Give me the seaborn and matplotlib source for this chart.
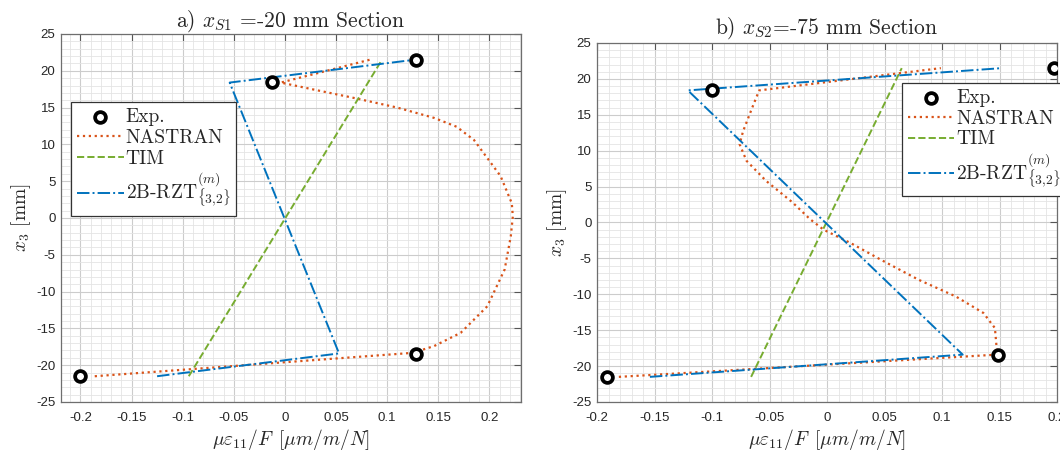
import matplotlib
matplotlib.use("Agg")
import matplotlib.pyplot as plt
from matplotlib.ticker import MultipleLocator, FixedLocator, FuncFormatter
import seaborn as sns

# ---- data (x: micro-strain / F, y: x3 in mm) ----
# a) section xS1 = -20 mm
exp_a_x = [-0.200, 0.128, -0.013, 0.128]
exp_a_y = [-21.5, -18.5, 18.5, 21.5]

nastran_a_x = [-0.186, 0.127, 0.130, 0.146, 0.172, 0.198, 0.215, 0.221, 0.223,
               0.222, 0.211, 0.185, 0.168, 0.146, 0.110, 0.068, 0.030, -0.004,
               0.083]
nastran_a_y = [-21.5, -18.3, -18.1, -17.4, -15.6, -12.0, -7.0, -2.5, 0.2,
               2.0, 5.7, 10.6, 12.4, 13.6, 15.0, 16.3, 17.4, 18.4, 21.5]

tim_a_x = [-0.094, 0.095]
tim_a_y = [-21.5, 21.5]

rzt_a_x = [-0.125, 0.053, -0.054, 0.127]
rzt_a_y = [-21.5, -18.4, 18.4, 21.5]

# b) section xS2 = -75 mm
exp_b_x = [-0.191, 0.149, -0.100, 0.197]
exp_b_y = [-21.5, -18.5, 18.5, 21.5]

nastran_b_x = [-0.181, 0.148, 0.147, 0.146, 0.136, 0.112, 0.080, 0.047, 0.021,
               -0.003, -0.015, -0.030, -0.053, -0.070, -0.076, -0.073, -0.065,
               -0.059, 0.099]
nastran_b_y = [-21.5, -18.4, -16.5, -14.7, -12.6, -10.3, -8.0, -5.2, -2.9,
               -1.0, 0.5, 2.8, 5.8, 8.6, 10.9, 12.7, 16.0, 18.4, 21.5]

tim_b_x = [-0.066, 0.065]
tim_b_y = [-21.5, 21.5]

rzt_b_x = [-0.154, 0.118, -0.121, 0.152]
rzt_b_y = [-21.5, -18.4, 18.4, 21.5]

x_ticks = [-0.2, -0.15, -0.1, -0.05, 0, 0.05, 0.1, 0.15, 0.2]
y_ticks = [-25, -20, -15, -10, -5, 0, 5, 10, 15, 20, 25]

titles = [r"a) $x_{S1}$ =-20 mm Section", r"b) $x_{S2}$=-75 mm Section"]
labels = ["Exp.", "NASTRAN", "TIM", r"2B-RZT$^{(m)}_{\{3{,}2\}}$"]

c_nas = "#D95319"
c_tim = "#77AC30"
c_rzt = "#0072BD"

sns.set_theme(style="white")
plt.rcParams["font.family"] = ["Liberation Sans", "DejaVu Sans"]
plt.rcParams["mathtext.fontset"] = "cm"
plt.rcParams["axes.unicode_minus"] = False
serif = "cmr10"

fig = plt.figure(figsize=(10.6, 4.53), dpi=100)
ax1 = fig.add_axes([61 / 1060, 51 / 453, 460 / 1060, 368 / 453])
ax2 = fig.add_axes([597 / 1060, 51 / 453, 460 / 1060, 359 / 453])


def panel(ax, ex, ey, nx, ny, tx, ty, rx, ry, xlim, title, leg_anchor, tpad):
    sns.scatterplot(x=ex, y=ey, ax=ax, marker="o", s=60, facecolor="white",
                    edgecolor="black", linewidth=2.7, zorder=5, label=labels[0])
    sns.lineplot(x=nx, y=ny, ax=ax, sort=False, estimator=None, color=c_nas,
                 linestyle=":", linewidth=1.6, label=labels[1])
    sns.lineplot(x=tx, y=ty, ax=ax, sort=False, estimator=None, color=c_tim,
                 linestyle="--", linewidth=1.4, label=labels[2])
    sns.lineplot(x=rx, y=ry, ax=ax, sort=False, estimator=None, color=c_rzt,
                 linestyle="-.", linewidth=1.4, label=labels[3])

    ax.set_xlim(*xlim)
    ax.set_ylim(-25, 25)
    ax.xaxis.set_major_locator(FixedLocator(x_ticks))
    ax.yaxis.set_major_locator(FixedLocator(y_ticks))
    ax.xaxis.set_major_formatter(FuncFormatter(lambda v, p: "%g" % round(v, 3)))
    ax.yaxis.set_major_formatter(FuncFormatter(lambda v, p: "%g" % v))
    ax.xaxis.set_minor_locator(MultipleLocator(0.01))
    ax.yaxis.set_minor_locator(MultipleLocator(1))
    ax.grid(which="major", color="#cccccc", linewidth=0.8)
    ax.grid(which="minor", color="#e4e4e4", linewidth=0.6)
    ax.set_axisbelow(True)
    ax.tick_params(which="major", direction="in", length=5, width=0.8,
                   color="#555555", top=True, right=True, labelsize=9.5,
                   labelcolor="#262626")
    ax.tick_params(axis="x", which="major", pad=7)
    ax.tick_params(axis="y", which="major", pad=4)
    ax.tick_params(which="minor", length=0)
    for s in ax.spines.values():
        s.set_color("#6e6e6e")
        s.set_linewidth(0.9)

    ax.set_title(title, fontfamily=serif, fontsize=15.5, pad=tpad)
    ax.set_xlabel(r"$\mu\varepsilon_{11}/F\ \,[\mu m/m/N]$", fontsize=14, labelpad=2)
    ax.set_ylabel(r"$x_3$ [mm]", fontfamily=serif, fontsize=14, labelpad=2)

    leg = ax.legend(loc="upper left", bbox_to_anchor=leg_anchor,
                    prop={"family": serif, "size": 14}, frameon=True,
                    fancybox=False, edgecolor="#333333", framealpha=1,
                    handlelength=2.4, handletextpad=0.1, borderpad=0.3,
                    labelspacing=0.15, borderaxespad=0)
    leg.get_frame().set_linewidth(0.9)
    leg.set_zorder(10)


panel(ax1, exp_a_x, exp_a_y, nastran_a_x, nastran_a_y, tim_a_x, tim_a_y,
      rzt_a_x, rzt_a_y, (-0.219, 0.231), titles[0], (0.022, 0.815), 5)
panel(ax2, exp_b_x, exp_b_y, nastran_b_x, nastran_b_y, tim_b_x, tim_b_y,
      rzt_b_x, rzt_b_y, (-0.2, 0.2), titles[1], (0.663, 0.889), 7)

fig.savefig("out.png", dpi=100)
